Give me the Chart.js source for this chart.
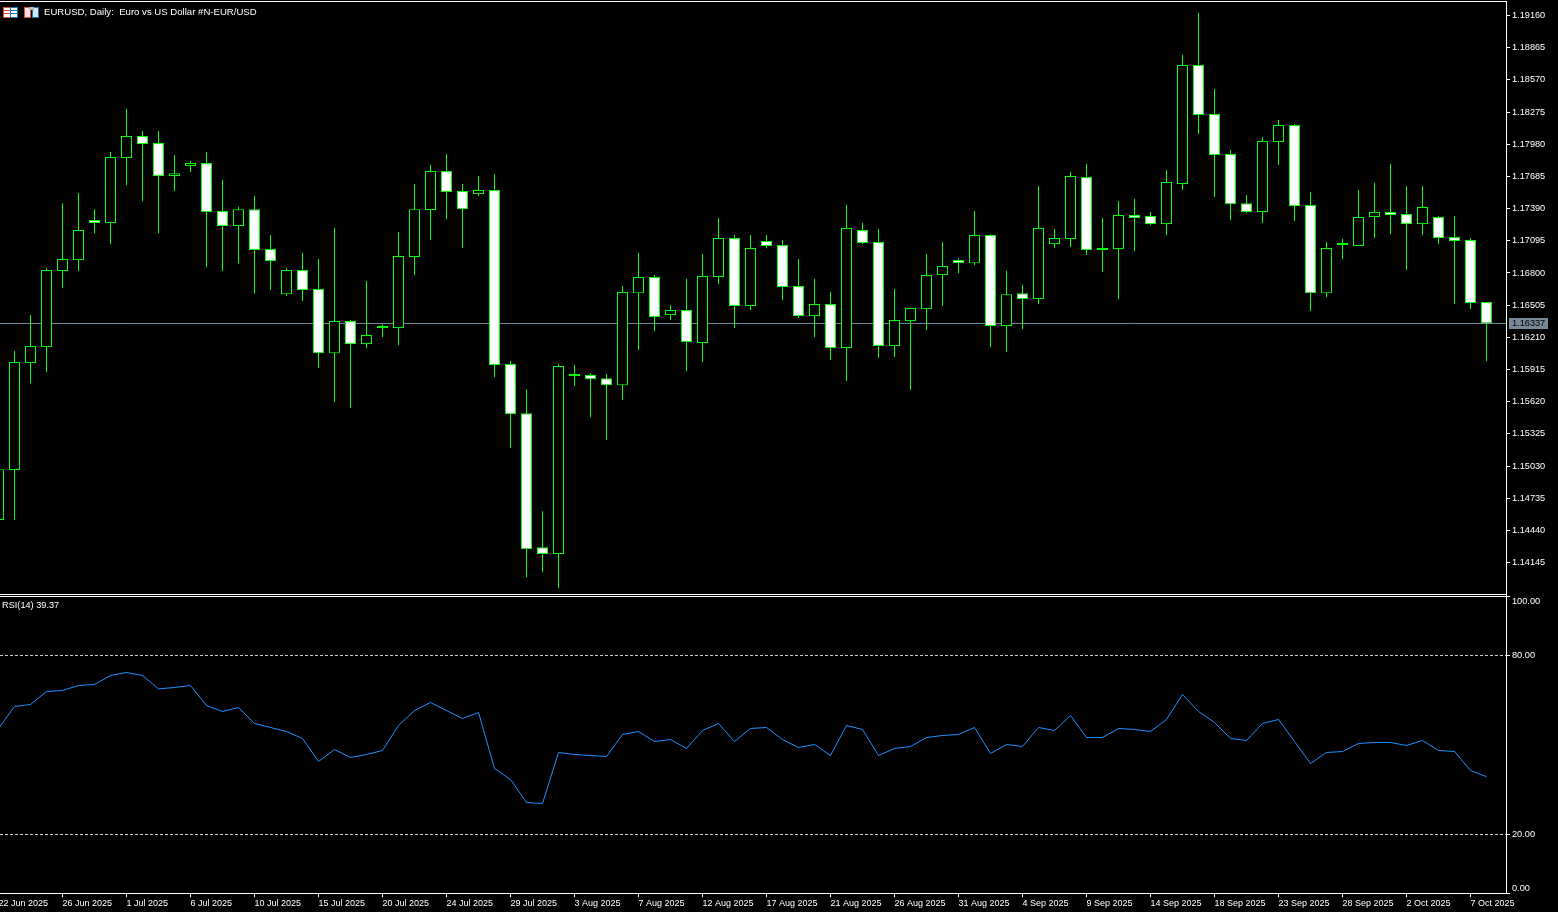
<!DOCTYPE html>
<html>
<head>
<meta charset="utf-8">
<title>EURUSD, Daily</title>
<script src="https://cdn.jsdelivr.net/npm/chart.js@4/dist/chart.umd.min.js"></script>
<style>
html,body{margin:0;padding:0;background:#000;overflow:hidden;}
canvas{position:absolute;left:0;display:block;}
#price{top:0;}
#rsi{top:595px;}
.lbl{position:absolute;color:#fff;font:9.2px "Liberation Sans",sans-serif;white-space:pre;line-height:12px;}
svg{position:absolute;top:7px;}
</style>
</head>
<body>
<canvas id="price" width="1558" height="595"></canvas>
<canvas id="rsi" width="1558" height="317"></canvas>
<svg style="left:3px" width="15" height="11"><rect width="15" height="11" fill="#fff"/><rect x=".5" y=".5" width="7" height="10" fill="none" stroke="#e04a3f"/><rect x="7.5" y=".5" width="7" height="10" fill="none" stroke="#1f6fb5"/><rect x="1" y="3" width="6" height="1" fill="#e04a3f"/><rect x="1" y="6" width="6" height="1" fill="#e04a3f"/><rect x="8" y="3" width="6" height="1" fill="#1f6fb5"/><rect x="8" y="6" width="6" height="1" fill="#1f6fb5"/></svg>
<svg style="left:24px" width="15" height="11"><rect width="7" height="11" fill="#fbe3e0"/><rect x=".5" y=".5" width="6" height="10" fill="none" stroke="#e04a3f"/><rect x="8" width="7" height="11" fill="#cfe6f7"/><rect x="8.5" y=".5" width="6" height="10" fill="none" stroke="#1f6fb5"/><rect x="5" y="0" width="5" height="3" fill="#bbb"/></svg>
<div class="lbl" style="left:44px;top:6px;font-size:9.6px">EURUSD, Daily:  Euro vs US Dollar #N-EUR/USD</div>
<div class="lbl" style="left:2px;top:599px">RSI(14) 39.37</div>
<script>
const tickDates = ['22 Jun 2025','26 Jun 2025','1 Jul 2025','6 Jul 2025','10 Jul 2025','15 Jul 2025','20 Jul 2025','24 Jul 2025','29 Jul 2025','3 Aug 2025','7 Aug 2025','12 Aug 2025','17 Aug 2025','21 Aug 2025','26 Aug 2025','31 Aug 2025','4 Sep 2025','9 Sep 2025','14 Sep 2025','18 Sep 2025','23 Sep 2025','28 Sep 2025','2 Oct 2025','7 Oct 2025'];
const priceTicks = [1.19160,1.18865,1.18570,1.18275,1.17980,1.17685,1.17390,1.17095,1.16800,1.16505,1.16210,1.15915,1.15620,1.15325,1.15030,1.14735,1.14440,1.14145];
const rsiTicks = [100,80,20,0];
const rsiLevels = [80,20];
const lastPrice = 1.16337;

const opens = [1.14535,1.14993,1.15974,1.16121,1.16818,1.16918,1.17285,1.17257,1.17854,1.18055,
1.17991,1.17688,1.17780,1.17807,1.17368,1.17230,1.17385,1.17019,1.16606,1.16827,
1.16652,1.16065,1.16359,1.16148,1.16295,1.16295,1.16946,1.17377,1.17734,1.17551,
1.17523,1.17560,1.15965,1.15515,1.14287,1.14223,1.15855,1.15864,1.15836,1.15772,
1.16615,1.16763,1.16414,1.16460,1.16158,1.16763,1.17120,1.16497,1.17093,1.17056,
1.16680,1.16405,1.16515,1.16112,1.17193,1.17084,1.16130,1.16359,1.16469,1.16781,
1.16918,1.16890,1.17147,1.16313,1.16615,1.16561,1.17065,1.17111,1.17679,1.17029,
1.17019,1.17331,1.17322,1.17248,1.17615,1.18706,1.18257,1.17890,1.17440,1.17359,
1.18000,1.18156,1.17422,1.16615,1.17056,1.17047,1.17313,1.17359,1.17340,1.17248,
1.17313,1.17129,1.17102,1.16533];
const highs = [1.15002,1.16084,1.16414,1.16845,1.17440,1.17532,1.17385,1.17909,1.18302,1.18101,
1.18101,1.17881,1.17826,1.17909,1.17652,1.17404,1.17505,1.17147,1.16845,1.16982,
1.16927,1.17212,1.16368,1.16726,1.16331,1.17175,1.17615,1.17789,1.17890,1.17615,
1.17688,1.17706,1.15993,1.15735,1.14617,1.15965,1.15956,1.15882,1.15873,1.16680,
1.16982,1.16781,1.16506,1.16744,1.16973,1.17304,1.17147,1.17147,1.17147,1.17102,
1.16927,1.16744,1.16625,1.17422,1.17257,1.17203,1.16652,1.16479,1.16973,1.17084,
1.16936,1.17368,1.17156,1.16818,1.16689,1.17597,1.17203,1.17725,1.17798,1.17304,
1.17459,1.17477,1.17359,1.17743,1.18798,1.19182,1.18486,1.17927,1.17514,1.18046,
1.18202,1.18165,1.17542,1.17084,1.17111,1.17560,1.17624,1.17798,1.17597,1.17597,
1.17322,1.17322,1.17120,1.16533];
const lows = [1.14535,1.14535,1.15790,1.15892,1.16662,1.16818,1.17165,1.17065,1.17606,1.17459,
1.17165,1.17551,1.17725,1.16854,1.16818,1.16890,1.16615,1.16643,1.16588,1.16543,
1.15929,1.15617,1.15562,1.16112,1.16213,1.16139,1.16781,1.17102,1.17294,1.17029,
1.17505,1.15846,1.15195,1.14012,1.14058,1.13912,1.15763,1.15479,1.15268,1.15635,
1.16093,1.16268,1.16368,1.15901,1.15984,1.16698,1.16295,1.16460,1.17029,1.16552,
1.16387,1.16213,1.16002,1.15809,1.17065,1.16020,1.16029,1.15727,1.16277,1.16497,
1.16799,1.16872,1.16121,1.16075,1.16286,1.16515,1.17029,1.17038,1.16964,1.16809,
1.16561,1.17001,1.17239,1.17147,1.17560,1.18074,1.17496,1.17285,1.17349,1.17257,
1.17789,1.17276,1.16451,1.16579,1.16927,1.17047,1.17120,1.17156,1.16827,1.17147,
1.17065,1.16515,1.16469,1.15993];
const closes = [1.15002,1.15984,1.16130,1.16827,1.16927,1.17193,1.17257,1.17863,1.18055,1.17982,
1.17688,1.17715,1.17807,1.17359,1.17230,1.17385,1.17010,1.16909,1.16827,1.16643,
1.16065,1.16359,1.16148,1.16231,1.16313,1.16955,1.17385,1.17734,1.17542,1.17385,
1.17560,1.15956,1.15506,1.14268,1.14223,1.15947,1.15873,1.15827,1.15772,1.16625,
1.16763,1.16396,1.16460,1.16167,1.16772,1.17120,1.16497,1.17029,1.17047,1.16671,
1.16405,1.16515,1.16112,1.17212,1.17074,1.16130,1.16368,1.16479,1.16781,1.16863,
1.16890,1.17147,1.16313,1.16606,1.16561,1.17212,1.17120,1.17688,1.17010,1.17010,
1.17331,1.17304,1.17248,1.17634,1.18706,1.18248,1.17881,1.17431,1.17359,1.18010,
1.18156,1.17413,1.16615,1.17029,1.17074,1.17313,1.17359,1.17331,1.17248,1.17404,
1.17120,1.17093,1.16524,1.16337];
const rsiValues = [55.53,62.90,63.58,67.93,68.27,69.94,70.28,73.30,74.30,73.30,
68.80,69.27,69.94,63.24,61.23,62.57,57.21,55.87,54.52,52.18,
44.47,48.49,45.81,46.82,48.16,56.54,61.56,64.25,61.56,58.88,
60.89,42.12,38.44,30.73,30.39,47.49,46.82,46.48,46.14,53.52,
54.52,51.17,51.84,48.83,54.86,57.21,51.17,55.53,55.87,51.84,
49.16,50.17,46.48,56.54,55.20,46.48,48.83,49.50,52.51,53.18,
53.52,55.87,47.15,50.17,49.50,55.87,54.86,59.89,52.51,52.51,
55.53,55.20,54.52,58.55,66.93,61.23,57.54,52.18,51.51,57.21,
58.55,51.17,43.80,47.49,47.82,50.50,50.84,50.84,49.83,51.51,
48.16,47.82,41.45,39.37];

const GREEN = '#00ff00', WHITE = '#ffffff', SLATE = '#778899';
const FONT = {family:'"Liberation Sans", sans-serif', size:9.2};
const DATE_FONT = {family:'"Liberation Sans", sans-serif', size:9};
const xMin = 0.09375, xMax = 94.21875;

// scales must not inset themselves for their labels, panes run edge to edge
function noPadding(s){ s.paddingLeft = s.paddingRight = s.paddingTop = s.paddingBottom = 0; }
function fixWidth(scale){ scale.width = 52; noPadding(scale); }

function axisTicks(list){
  return (scale)=>{ scale.ticks = list.map(v=>({value:v})); };
}

// white pane frame, same look as the terminal
function frameLines(ctx, area, top, bottom){
  ctx.fillStyle = WHITE;
  ctx.fillRect(0, top, area.right, 1);
  ctx.fillRect(0, bottom, area.right, 1);
  ctx.fillRect(area.right, top, 1, bottom-top+1);
}

const pricePlugin = {
  id:'priceExtras',
  afterDraw(chart){
    const ctx = chart.ctx, y = chart.scales.y.getPixelForValue(lastPrice);
    frameLines(ctx, chart.chartArea, 1, 594);
    ctx.fillStyle = SLATE;
    ctx.fillRect(chart.chartArea.right+3, Math.floor(y)-5, 39, 11);
    ctx.fillStyle = '#000';
    ctx.font = FONT.size+'px '+FONT.family;
    ctx.textBaseline = 'middle';
    ctx.textAlign = 'left';
    ctx.fillText(lastPrice.toFixed(5), chart.chartArea.right+6, Math.floor(y)+0.5);
  }
};

const rsiPlugin = {
  id:'rsiExtras',
  afterDraw(chart){
    const ctx = chart.ctx, sc = chart.scales.y, right = chart.chartArea.right;
    frameLines(ctx, chart.chartArea, 1, 298);
    ctx.fillRect(right, 0, 1, 2);
    ctx.font = FONT.size+'px '+FONT.family;
    ctx.textAlign = 'left';
    ctx.textBaseline = 'middle';
    rsiTicks.forEach(v=>{
      const p = sc.getPixelForValue(v);
      const row = Math.min(298, Math.max(1, Math.floor(p)));
      ctx.fillStyle = WHITE;
      ctx.fillRect(right, row, 4, 1);
      let ty = row + 0.5;
      if(v === 100) ty += 5;
      if(v === 0) ty -= 5;
      ctx.fillText(v.toFixed(2), right+6, ty);
    });
  }
};

const wickData = highs.map((h,i)=>({x:i, y:[lows[i], h]}));
const bodyData = opens.map((o,i)=>({x:i, y:[o, closes[i]]}));
const bodyFill = opens.map((o,i)=> closes[i] < o ? WHITE : '#000000');

new Chart(document.getElementById('price'), {
  type:'bar',
  data:{ datasets:[
    { data:bodyData, order:1, grouped:false, barPercentage:1, categoryPercentage:1, maxBarThickness:11,
      backgroundColor:bodyFill, borderColor:GREEN, borderWidth:1, borderSkipped:false, inflateAmount:0 },
    { data:wickData, order:2, grouped:false, barPercentage:1, categoryPercentage:1, maxBarThickness:1,
      backgroundColor:GREEN, borderWidth:0, inflateAmount:0 },
    { type:'line', data:[{x:xMin,y:lastPrice},{x:xMax,y:lastPrice}], order:3,
      borderColor:SLATE, borderWidth:1, pointRadius:0 }
  ]},
  options:{
    responsive:false, animation:false,
    layout:{ autoPadding:false, padding:{top:2, bottom:1, left:0, right:0} },
    plugins:{ legend:{display:false}, tooltip:{enabled:false} },
    scales:{
      x:{ type:'linear', display:false, min:xMin, max:xMax, offset:false, grid:{offset:false} },
      y:{ position:'right', min:1.138575, max:1.192837, afterFit:fixWidth, afterBuildTicks:axisTicks(priceTicks),
          border:{display:false},
          grid:{drawOnChartArea:false, tickLength:4, tickColor:WHITE},
          ticks:{color:WHITE, font:FONT, padding:2, autoSkip:false, callback:v=>v.toFixed(5)} }
    }
  },
  plugins:[pricePlugin]
});

const levelSets = rsiLevels.map(v=>({
  data:[{x:xMin,y:v},{x:xMax,y:v}], borderColor:'#d0d0d0', borderWidth:1, borderDash:[3,2], pointRadius:0, order:2
}));

new Chart(document.getElementById('rsi'), {
  type:'line',
  data:{ datasets:[
    { data:rsiValues.map((v,i)=>({x:i,y:v})), borderColor:'#1e90ff', borderWidth:1, pointRadius:0, tension:0, order:1 },
    ...levelSets
  ]},
  options:{
    responsive:false, animation:false,
    layout:{ autoPadding:false, padding:{top:0.8, bottom:0, left:0, right:0} },
    plugins:{ legend:{display:false}, tooltip:{enabled:false} },
    scales:{
      x:{ type:'linear', min:xMin, max:xMax, afterFit:(s)=>{ s.height = 17.8; noPadding(s); },
          afterBuildTicks:(s)=>{ s.ticks = tickDates.map((d,k)=>({value:k*4})); },
          border:{display:false},
          grid:{drawOnChartArea:false, tickLength:3, tickColor:WHITE},
          ticks:{color:WHITE, font:DATE_FONT, padding:1, align:'start', autoSkip:false, maxRotation:0,
                 callback:(v)=>tickDates[v/4]} },
      y:{ position:'right', min:0, max:100, afterFit:fixWidth, border:{display:false},
          grid:{drawOnChartArea:false, drawTicks:false}, ticks:{display:false} }
    }
  },
  plugins:[rsiPlugin]
});
</script>
</body>
</html>
